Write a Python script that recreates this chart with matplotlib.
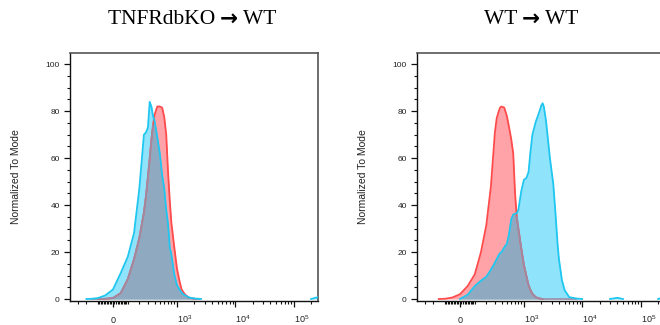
import numpy as np
import matplotlib
matplotlib.use('Agg')
from matplotlib import pyplot as plt
from matplotlib.offsetbox import TextArea, HPacker, AnnotationBbox

plt.rcParams['font.family'] = ['Liberation Sans', 'DejaVu Sans']
plt.rcParams['mathtext.fontset'] = 'custom'
plt.rcParams['mathtext.rm'] = 'Liberation Sans'

# fluorescence intensity bins (shared by all histograms)
intensity = [-400, -300, -200, -150, -100, -50, 0, 50, 100, 150, 200, 250, 275, 300,
             325, 350, 375, 400, 450, 500, 550, 600, 650, 700, 750, 800, 900, 1000,
             1100, 1200, 1300, 1400, 1600, 1800, 2000, 2100, 2200, 2400, 2600, 2800,
             3200, 3500, 3800, 4000, 4500, 5000, 6000, 8000, 10000, 20000, 30000,
             40000, 50000, 100000, 200000, 262144]

# TNFRdbKO -> WT
ko_red = [0, 0, 0, 0, 0, 0.1, 0.4, 2.5, 8.5, 17, 26, 37, 44, 52,
          60, 68, 74, 78.5, 82, 82, 81.5, 77.5, 70, 54, 42, 32.5, 22, 13,
          8, 4.2, 2.8, 1.8, 0.6, 0.3, 0.1, 0, 0, 0, 0, 0,
          0, 0, 0, 0, 0, 0, 0, 0, 0, 0, 0,
          0, 0, 0, 0, 0]
ko_blue = [0, 0, 0, 0.1, 0.4, 1.5, 4, 11, 18, 28, 47, 70, 71, 73,
           84, 82, 78, 76, 69, 62, 53, 47, 38, 32, 22, 19, 10.5, 6,
           4.2, 2.8, 2, 1.5, 0.7, 0.4, 0.25, 0.2, 0.15, 0.1, 0, 0,
           0, 0, 0, 0, 0, 0, 0, 0, 0, 0, 0,
           0, 0, 0, 0, 0.8]

# WT -> WT
wt_red = [0, 0, 0, 0, 0.1, 0.6, 2, 5.5, 10.5, 20, 31.5, 48, 60, 71,
          77, 79.5, 81.5, 82, 81.5, 78, 73, 68, 62, 45, 35, 30, 21.5, 14.5,
          10, 6, 3.8, 2.2, 0.8, 0.3, 0.1, 0, 0, 0, 0, 0,
          0, 0, 0, 0, 0, 0, 0, 0, 0, 0, 0,
          0, 0, 0, 0, 0]
wt_blue = [0, 0, 0, 0, 0, 0, 0, 1.8, 5.5, 7.8, 9.5, 12.5, 14, 15.5,
           17, 18.5, 19.5, 20, 22, 23.5, 28, 34, 36, 36.3, 36.5, 38, 46, 50.8,
           51.5, 54, 63, 70, 75.5, 79, 82.5, 83.4, 82, 76, 67.7, 60,
           49, 36, 23, 17, 8, 3.8, 0.8, 0.2, 0, 0, 0,
           0.5, 0, 0, 0, 1]

# donor -> recipient
titles = [('TNFRdbKO', 'WT'), ('WT', 'WT')]
ylabel = 'Normalized To Mode'
xtick_vals = [0, 1e3, 1e4, 1e5]
xtick_labels = ['0', r'$\mathregular{10^3}$', r'$\mathregular{10^4}$', r'$\mathregular{10^5}$']

W = 161.0  # linear width of the biexponential-like display


def fwd(x):
    return np.arcsinh(np.asarray(x, float) / W) / np.log(10)


def inv(y):
    return W * np.sinh(np.asarray(y, float) * np.log(10))


def trim_zeros(v):
    # hide flat zero stretches so no line runs along the baseline
    v = np.asarray(v, float)
    out = v.copy()
    for i in range(len(v)):
        lo = v[i - 1] if i > 0 else 0
        hi = v[i + 1] if i < len(v) - 1 else 0
        if v[i] == 0 and lo == 0 and hi == 0:
            out[i] = np.nan
    return out


RED_FILL = '#ffa3a8'
BLUE_FILL = '#8fe4fb'
BOTH_FILL = '#8faac0'
RED_LINE = '#ff4b4b'
RED_UNDER = '#9a8ca6'
BLUE_LINE = '#1ec6f0'

fig = plt.figure(figsize=(6.6, 3.25), dpi=100)
ax_l = fig.add_axes([70 / 660, 24 / 325, 248 / 660, 248 / 325])
ax_r = fig.add_axes([417 / 660, 24 / 325, 248 / 660, 248 / 325])

minor = ([-300, -200] + list(range(-100, 101, 10)) + list(range(200, 1000, 100))
         + list(range(2000, 10000, 1000)) + list(range(20000, 100000, 10000)) + [200000])

x = np.array(intensity, float)
for ax, red, blue in [(ax_l, ko_red, ko_blue), (ax_r, wt_red, wt_blue)]:
    red = np.array(red, float)
    blue = np.array(blue, float)
    ax.set_xscale('function', functions=(fwd, inv))
    ax.fill_between(x, 0, red, color=RED_FILL, lw=0, zorder=1)
    ax.fill_between(x, 0, blue, color=BLUE_FILL, lw=0, zorder=2)
    ax.fill_between(x, 0, np.minimum(red, blue), color=BOTH_FILL, lw=0, zorder=3)
    ax.plot(x, trim_zeros(red), color=RED_LINE, lw=1.3, zorder=4)
    ax.plot(x, np.where(red < blue, red, np.nan), color=RED_UNDER, lw=1.2, zorder=5)
    ax.plot(x, trim_zeros(blue), color=BLUE_LINE, lw=1.3, zorder=6)

    ax.set_xlim(-422, 262144)
    ax.set_ylim(-0.85, 104.8)
    ax.set_xticks(xtick_vals)
    labels = ax.set_xticklabels(xtick_labels, va='baseline', fontsize=6.5, color='#222222')
    ax.set_xticks(minor, minor=True)
    ax.set_yticks(range(0, 101, 20))
    ax.set_yticks(range(0, 101, 5), minor=True)
    ax.tick_params(axis='x', which='major', length=4, width=0.9, pad=11.5, color='#111111')
    ax.tick_params(axis='x', which='minor', length=2.4, width=0.8, color='#111111')
    ax.tick_params(axis='y', which='major', length=4.3, width=0.9, pad=3, labelsize=6,
                   labelcolor='#222222', color='#111111')
    ax.tick_params(axis='y', which='minor', length=2.5, width=0.8, color='#111111')
    # decade labels start at their tick, the zero label is centred
    for lab, h in zip(labels, ['center', 'left', 'left', 'left']):
        lab.set_ha(h)
    for s in ['top', 'right']:
        ax.spines[s].set_color('#555555')
        ax.spines[s].set_linewidth(1.2)
    for s in ['left', 'bottom']:
        ax.spines[s].set_color('#111111')
        ax.spines[s].set_linewidth(1.0)
    ax.set_ylabel(ylabel, fontsize=7.5, color='#222222')
    ax.yaxis.set_label_coords(-0.198, 0.5)

serif = dict(fontsize=15.5, family='Liberation Serif', color='black')
arrow = dict(fontsize=15.5, family='DejaVu Sans', weight='bold', color='black')
for (src, dst), xc in zip(titles, [192, 531]):
    box = HPacker(children=[TextArea(src + ' ', textprops=serif),
                            TextArea('\u2192', textprops=arrow),
                            TextArea(' ' + dst, textprops=serif)],
                  align='baseline', pad=0, sep=0)
    ab = AnnotationBbox(box, (xc / 660, 1 - 29.5 / 325), xycoords='figure fraction',
                        box_alignment=(0.5, 0.0), frameon=False, pad=0)
    fig.add_artist(ab)

fig.savefig('out.png', dpi=100)
